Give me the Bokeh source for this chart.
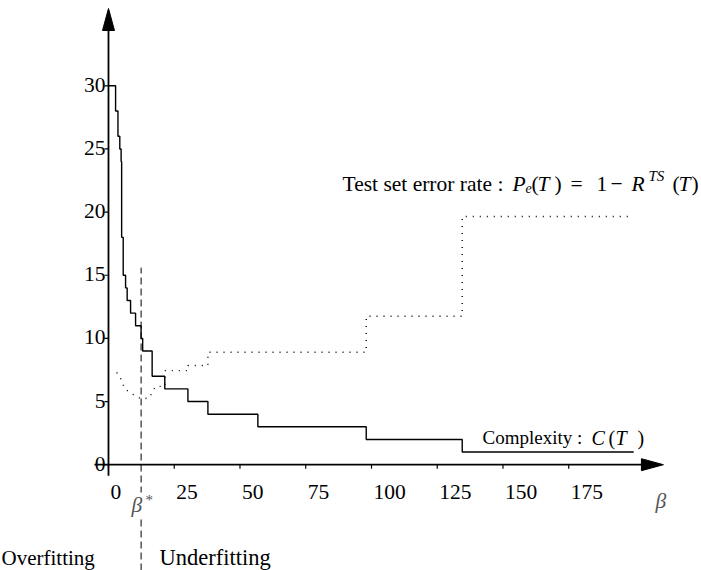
from bokeh.plotting import figure
from bokeh.models import Label, ColumnDataSource
from bokeh.core.properties import value
from bokeh.embed import file_html
from bokeh.resources import INLINE

# Pruning sequence: breakpoints of the complexity parameter beta and the
# number of leaves C(T) of the pruned tree on each interval.
beta_breaks = [0, 2.7, 3.6, 4.3, 4.8, 5.0, 5.6, 6.5, 7.1, 8.4, 10.3, 12.4,
               13.0, 16.6, 21.4, 30.2, 37.8, 56.8, 98.0, 134.5, 199.7]
complexity = [30, 28, 26, 25, 24, 18, 15, 14, 13, 12, 11, 10,
              9, 7, 6, 5, 4, 3, 2, 1]

# Test set error rate P_e(T) along the same sequence
err_beta = [3.1, 4.5, 5.1, 6.5, 8.4, 10.3, 12.8, 15.6, 16.6, 17.9, 21.5,
            21.5, 30.2, 30.2, 37.8, 37.8, 98.0, 98.0, 134.5, 134.5, 197.6]
err_rate = [7.3, 6.9, 6.5, 5.95, 5.7, 5.42, 5.2, 5.3, 5.75, 6.2, 6.2,
            7.45, 7.45, 7.85, 7.85, 8.9, 8.9, 11.75, 11.75, 19.65, 19.65]

# Optimal beta (minimum test error)
beta_star = 12.4

x_ticks = [0, 25, 50, 75, 100, 125, 150, 175]
x_tick_labels = ["0", "25", "50", "75", "100", "125", "150", "175"]
y_ticks = [0, 5, 10, 15, 20, 25, 30]
y_tick_labels = ["0", "5", "10", "15", "20", "25", "30"]

W, H = 701, 570
X0, X1 = -41.06, 225.48
Y0, Y1 = -8.377, 36.754
kx = W / (X1 - X0)   # pixels per beta unit
ky = H / (Y1 - Y0)   # pixels per value unit

X_TIP = 211.0
Y_TIP = 36.12
SERIF = "Liberation Serif"
FS = "21.5px"

p = figure(width=W, height=H, x_range=(X0, X1), y_range=(Y0, Y1),
           x_axis_location=None, y_axis_location=None,
           toolbar_location=None, output_backend="svg", min_border=0)
p.grid.visible = False
p.outline_line_color = None
p.background_fill_color = "white"
p.border_fill_color = "white"

# axes crossing at the origin, with arrow heads
p.line([-14 / kx, X_TIP - 4 / kx], [0, 0], line_color="black", line_width=1.8)
p.line([0, 0], [-11 / ky, Y_TIP - 4 / ky], line_color="black", line_width=1.8)
p.patches(
    xs=[[X_TIP, X_TIP - 22 / kx, X_TIP - 22 / kx],
        [0, -6 / kx, 6 / kx]],
    ys=[[0, 6 / ky, -6 / ky],
        [Y_TIP, Y_TIP - 22 / ky, Y_TIP - 22 / ky]],
    fill_color="black", line_color="black", line_width=1)

# tick marks
p.segment(x0=x_ticks, y0=[0] * len(x_ticks), x1=x_ticks,
          y1=[-4 / ky] * len(x_ticks), line_color="black", line_width=1.2)
p.segment(x0=[0] * len(y_ticks), y0=y_ticks, x1=[-4 / kx] * len(y_ticks),
          y1=y_ticks, line_color="black", line_width=1.2)

xt = ColumnDataSource(dict(x=x_ticks, y=[0] * len(x_ticks), t=x_tick_labels))
p.text(x="x", y="y", text="t", source=xt, x_offset=2, y_offset=27,
       text_font=value(SERIF), text_font_size=FS, text_color="black",
       text_align="left", text_baseline="alphabetic")
yt = ColumnDataSource(dict(x=[0] * len(y_ticks), y=y_ticks, t=y_tick_labels))
p.text(x="x", y="y", text="t", source=yt, x_offset=-3, y_offset=-1,
       text_font=value(SERIF), text_font_size=FS, text_color="black",
       text_align="right", text_baseline="alphabetic")

# complexity C(T): step function
p.step(x=beta_breaks, y=complexity + [complexity[-1]], mode="after",
       line_color="black", line_width=1.4)

# test set error rate: dotted
p.line(err_beta, err_rate, line_color="black", line_width=1.4,
       line_dash="1 6")

# optimal beta
p.segment(x0=[beta_star], y0=[Y0], x1=[beta_star], y1=[15.6],
          line_color="black", line_width=1, line_dash="7 4")


def put(text, px, py, size=FS, style="normal", color="black", bg=None):
    p.add_layout(Label(x=px, y=H - py, x_units="screen", y_units="screen",
                       text=text, text_font=SERIF, text_font_size=size,
                       text_font_style=style, text_color=color,
                       text_align="left", text_baseline="alphabetic",
                       background_fill_color=bg))


# beta* and beta labels
put("\u03b2", 131, 504, style="italic", color="#555555", bg="white")
put("*", 145, 499, size="15px", color="#555555")
put("\u03b2", 655, 500, style="italic", color="#555555")

put("Overfitting", 1, 557, size="21px")
put("Underfitting", 159, 557, size="22.5px")

# test error label: Test set error rate : P_e(T) = 1 - R^TS(T)
put("Test set error rate :", 342, 183)
put("P", 512, 183, style="italic")
put("e", 525, 187, size="14px", style="italic")
put("(", 531, 183)
put("T", 537, 183, style="italic")
put(")", 554, 183)
put("=", 570, 183)
put("1", 596, 183)
put("\u2212", 610, 183)
put("R", 631, 183, style="italic")
put("TS", 648, 175, size="15px", style="italic")
put("(", 672, 183)
put("T", 678, 183, style="italic")
put(")", 691, 183)

# complexity label: Complexity : C(T)
put("Complexity :", 482, 437, size="19px")
put("C", 591, 437, size="20px", style="italic")
put("(", 608, 437, size="20px")
put("T", 615, 437, size="20px", style="italic")
put(")", 637, 437, size="20px")

open("out.html", "w").write(file_html(p, INLINE))
